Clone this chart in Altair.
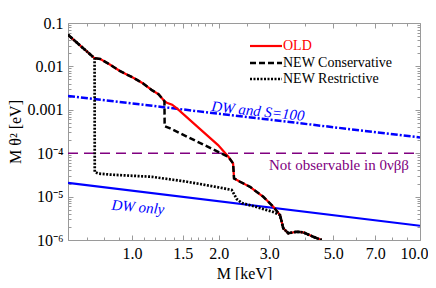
import altair as alt
import pandas as pd

# ---- axis ticks ----
x_major = [1.0, 1.5, 2.0, 3.0, 5.0, 7.0, 10.0]
x_minor = [0.6, 0.7, 0.8, 0.9, 1.1, 1.2, 1.3, 1.4, 1.6, 1.7, 1.8, 1.9, 2.5, 4.0, 6.0, 8.0, 9.0]
y_major = [1e-6, 1e-5, 1e-4, 1e-3, 1e-2, 1e-1]
y_minor = [k * 10.0 ** e for e in range(-6, -1) for k in range(2, 10)]

# ---- curves (M [keV], M theta^2 [eV]) ----
head_M = [0.600, 0.742, 0.777, 0.841, 0.911, 1.011, 1.094, 1.173, 1.237, 1.297]
head_y = [0.0535, 0.0154, 0.0148, 0.0109, 0.00774, 0.00548, 0.00403, 0.00283, 0.00229, 0.00158]
old_mid_M = [1.322, 1.379, 1.436, 1.725, 1.991]
old_mid_y = [0.00146, 0.00131, 0.00106, 0.000358, 0.000154]
cons_mid_M = [1.299, 1.358]
cons_mid_y = [0.000420, 0.000372]
tail_M = [2.162, 2.245, 2.262, 2.373, 2.570, 2.858, 3.096, 3.266, 3.353, 3.490, 3.731, 3.933, 4.260, 4.556]
tail_y = [8.26e-5, 5.82e-5, 2.63e-5, 2.20e-5, 1.68e-5, 9.92e-6, 5.84e-6, 3.76e-6, 1.86e-6, 1.43e-6,
          1.55e-6, 1.50e-6, 1.19e-6, 1.00e-6]
restr_mid_M = [0.743, 0.764, 0.841, 1.173, 1.551, 1.725, 2.023, 2.221, 2.312, 2.411, 2.712, 3.096]
restr_mid_y = [3.67e-5, 3.39e-5, 3.21e-5, 2.86e-5, 2.20e-5, 1.95e-5, 1.61e-5, 1.42e-5, 8.78e-6,
               7.10e-6, 5.74e-6, 4.41e-6]

dw_s100_M = [0.6, 10.0]
dw_s100_y = [2.09e-3, 2.31e-4]
dw_only_M = [0.6, 10.0]
dw_only_y = [2.08e-5, 2.13e-6]
nonobs_M = [0.6, 10.0]
nonobs_y = [1e-4, 1e-4]

legend_labels = ["OLD", "NEW Conservative", "NEW Restrictive"]
annot_labels = ["DW and S=100", "DW only", "Not observable in 0νββ"]


def frame(M, y):
    return pd.DataFrame({"M": M, "y": y, "i": list(range(len(M)))})


old_df = frame(head_M + old_mid_M + tail_M, head_y + old_mid_y + tail_y)
cons_df = frame(head_M + cons_mid_M + tail_M, head_y + cons_mid_y + tail_y)
restr_df = frame(head_M[:2] + restr_mid_M + tail_M[7:], head_y[:2] + restr_mid_y + tail_y[7:])
s100_df = frame(dw_s100_M, dw_s100_y)
only_df = frame(dw_only_M, dw_only_y)
nonobs_df = frame(nonobs_M, nonobs_y)

xs = alt.Scale(type="log", domain=[0.6, 10.0], nice=False)
ys = alt.Scale(type="log", domain=[1e-6, 0.1], nice=False)

FONT = "Liberation Serif"
GREY = "#9a9a9a"

ylabel_expr = ("datum.value > 0.05 ? '0.1' : datum.value > 0.005 ? '0.01' : datum.value > 0.0005 ? '0.001' : "
               "datum.value > 0.00005 ? '10⁻⁴' : datum.value > 0.000005 ? '10⁻⁵' : '10⁻⁶'")

ax_bottom_major = alt.Axis(orient="bottom", values=x_major, format=".1f", tickSize=5, offset=-5,
                           domain=False, grid=False, labelPadding=5, title="M [keV]",
                           titleBaseline="alphabetic", titlePadding=17,
                           labelFlush=True, labelFlushOffset=8)
ax_bottom_minor = alt.Axis(orient="bottom", values=x_minor, tickSize=3, offset=-3, domain=False,
                           grid=False, labels=False, title=None)
ax_top_major = alt.Axis(orient="top", values=x_major, tickSize=5, offset=-5, domain=False,
                        grid=False, labels=False, title=None)
ax_top_minor = alt.Axis(orient="top", values=x_minor, tickSize=3, offset=-3, domain=False,
                        grid=False, labels=False, title=None)
ay_left_major = alt.Axis(orient="left", values=y_major, labelExpr=ylabel_expr, tickSize=5, offset=-5,
                         domain=False, grid=False, labelPadding=5, title="M θ² [eV]", titlePadding=4,
                         labelFlush=False)
ay_left_minor = alt.Axis(orient="left", values=y_minor, tickSize=3, offset=-3, domain=False,
                         grid=False, labels=False, title=None)
ay_right_major = alt.Axis(orient="right", values=y_major, tickSize=5, offset=-5, domain=False,
                          grid=False, labels=False, title=None)
ay_right_minor = alt.Axis(orient="right", values=y_minor, tickSize=3, offset=-3, domain=False,
                          grid=False, labels=False, title=None)


def line(df, xaxis=None, yaxis=None, **mark):
    return alt.Chart(df).mark_line(clip=True, **mark).encode(
        x=alt.X("M:Q", scale=xs, axis=xaxis),
        y=alt.Y("y:Q", scale=ys, axis=yaxis),
        order=alt.Order("i:Q"),
    )


nonobs = line(nonobs_df, color="#800080", strokeWidth=1.6, strokeDash=[10, 6])
s100 = line(s100_df, color="#0000ff", strokeWidth=2.5, strokeDash=[7, 2, 2, 2])
only = line(only_df, ax_top_minor, ay_right_minor, color="#0000ff", strokeWidth=2.2)
old = line(old_df, ax_bottom_major, ay_left_major, color="#ff0000", strokeWidth=2.2)
cons = line(cons_df, ax_bottom_minor, ay_left_minor, color="#000000", strokeWidth=2.5, strokeDash=[6, 3])
restr = line(restr_df, ax_top_major, ay_right_major, color="#000000", strokeWidth=2.7, strokeDash=[2, 1.5])


def label(text, x, y, color, angle=0, italic=False, align="center", size=15):
    kw = dict(font=FONT, fontSize=size, color=color, align=align, baseline="middle")
    if angle:
        kw["angle"] = angle
    if italic:
        kw["fontStyle"] = "italic"
    return alt.Chart(pd.DataFrame({"t": [text]})).mark_text(**kw).encode(
        x=alt.value(x), y=alt.value(y), text="t:N")


def legend_line(y, color, dash=None, width=2.2):
    kw = dict(color=color, strokeWidth=width)
    if dash:
        kw["strokeDash"] = dash
    return alt.Chart(pd.DataFrame({"t": [0]})).mark_rule(**kw).encode(
        x=alt.value(182), x2=alt.value(214), y=alt.value(y))


texts = [
    label(annot_labels[0], 190, 88, "#0000ff", angle=6, italic=True),
    label(annot_labels[1], 70, 184, "#0000ff", angle=5, italic=True),
    label(annot_labels[2], 271, 142, "#800080", size=15),
    legend_line(23, "#ff0000"),
    legend_line(40, "#000000", [6, 3], 2.4),
    legend_line(56, "#000000", [2, 1.5], 2.6),
    label(legend_labels[0], 215, 23, "#ff0000", align="left", size=14),
    label(legend_labels[1], 215, 40, "#000000", align="left", size=14),
    label(legend_labels[2], 215, 56, "#000000", align="left", size=14),
]

chart = alt.layer(nonobs, s100, only, old, cons, restr, *texts).resolve_axis(
    x="independent", y="independent"
).properties(
    width=352, height=217,
    autosize=alt.AutoSizeParams(type="none"),
    padding={"left": 60, "top": 15, "right": 8, "bottom": 40},
).configure_view(
    stroke=GREY, strokeWidth=1
).configure_axis(
    labelFont=FONT, labelFontSize=16, labelColor="#000000",
    titleFont=FONT, titleFontSize=16, titleFontWeight="normal", titleColor="#000000",
    tickColor=GREY, tickWidth=1,
)

chart.save("out.html", embed_options={"renderer": "svg", "actions": False})
